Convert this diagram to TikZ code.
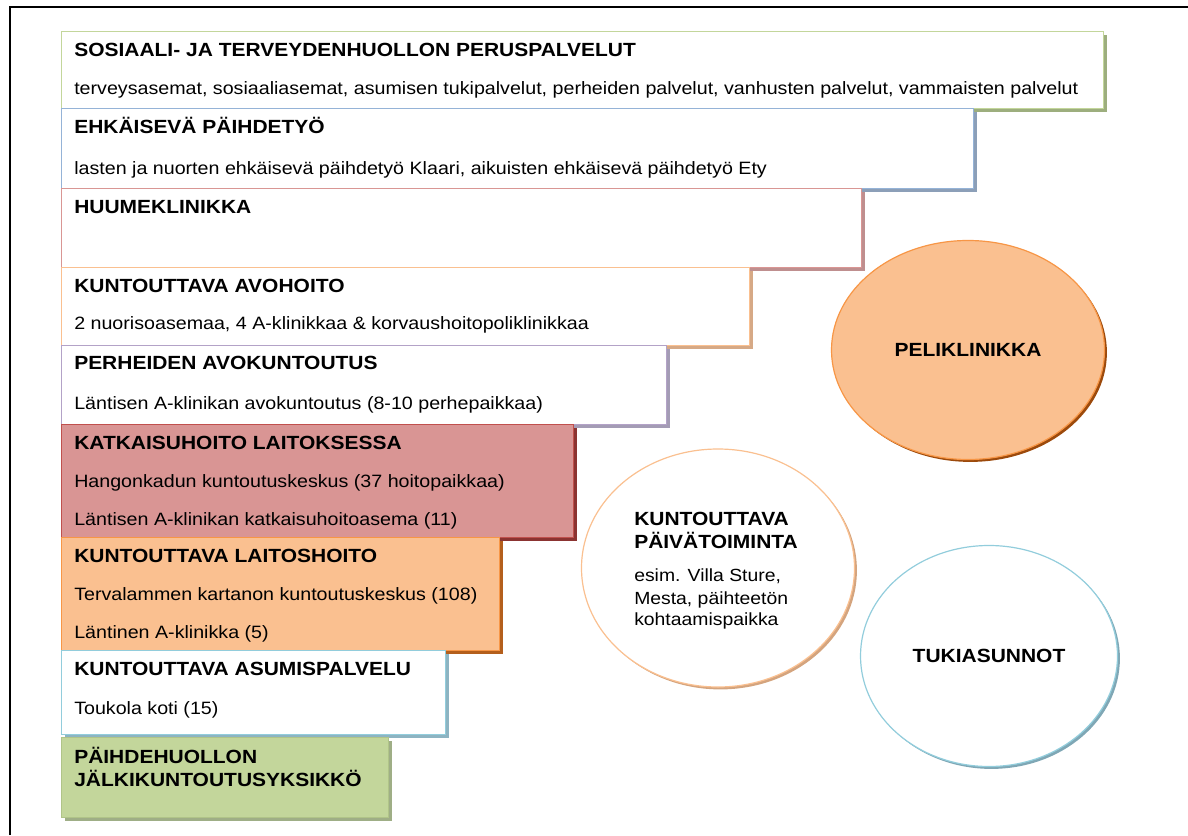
\documentclass[tikz,border=0pt]{standalone}
\usepackage{fontspec}
\setmainfont{Liberation Sans}[FakeStretch=1.1]
\usetikzlibrary{shadows,shapes.geometric}
\definecolor{grnB}{HTML}{C3D69B}
\definecolor{grnS}{HTML}{9DAE7E}
\definecolor{bluB}{HTML}{95B3D7}
\definecolor{bluS}{HTML}{8C9FB8}
\definecolor{redB}{HTML}{D99694}
\definecolor{redS}{HTML}{BF8F8F}
\definecolor{orgB}{HTML}{FAC090}
\definecolor{orgS}{HTML}{D6A986}
\definecolor{vioB}{HTML}{B3A2C7}
\definecolor{vioS}{HTML}{A49CB5}
\definecolor{katF}{HTML}{D99594}
\definecolor{katB}{HTML}{C0504D}
\definecolor{katS}{HTML}{8B3331}
\definecolor{laiF}{HTML}{FAC090}
\definecolor{laiB}{HTML}{F79646}
\definecolor{laiS}{HTML}{B45F1C}
\definecolor{asuB}{HTML}{92CDDC}
\definecolor{asuS}{HTML}{8DB4C2}
\definecolor{jalF}{HTML}{C3D69B}
\definecolor{jalB}{HTML}{B0C488}
\definecolor{jalS}{HTML}{9FAE86}
\definecolor{pelS}{HTML}{9C4A0C}
\definecolor{paiS}{HTML}{D4A47E}
\definecolor{tukS}{HTML}{7FA7B5}
\newcommand\mybox[7]{%
  \pgfmathsetmacro\bw{(#4-#2)*0.75}%
  \pgfmathsetmacro\bh{(#5-#3)*0.75}%
  \node[box, #6, minimum width=\bw pt, minimum height=\bh pt,
        drop shadow={shadow xshift=2.2pt, shadow yshift=-2.2pt, fill=#7, opacity=1}] (#1) at (#2,#3) {};}
\tikzset{
  box/.style={draw, line width=0.9pt, anchor=north west, inner sep=0pt, rectangle},
  ttl/.style={anchor=base west, inner sep=0pt, font=\bfseries\fontsize{14.3}{17}\selectfont},
  sub/.style={anchor=base west, inner sep=0pt, font=\fontsize{13.4}{16}\selectfont},
  csub/.style={anchor=base west, inner sep=0pt, font=\fontsize{13.2}{16}\selectfont},
  circ/.style={ellipse, draw, line width=0.9pt, inner sep=0pt, font=\bfseries\fontsize{14.3}{17}\selectfont},
}
\begin{document}
\begin{tikzpicture}[x=0.75pt, y=-0.75pt]
\useasboundingbox (0,0) rectangle (1188,835);
\draw[line width=2pt] (10,835) -- (10,7) -- (1188,7);

\mybox{b1}{61}{31}{1103}{108}{draw=grnB, fill=white}{grnS}
\node[ttl] (t1) at (74,56.5) {SOSIAALI- JA TERVEYDENHUOLLON PERUSPALVELUT};
\node[sub] (s1) at (74,94) {terveysasemat, sosiaaliasemat, asumisen tukipalvelut, perheiden palvelut, vanhusten palvelut, vammaisten palvelut};

\mybox{b2}{61}{108}{973}{188}{draw=bluB, fill=white}{bluS}
\node[ttl] (t2) at (74,133.5) {EHKÄISEVÄ PÄIHDETYÖ};
\node[sub] (s2) at (74,174) {lasten ja nuorten ehkäisevä päihdetyö Klaari, aikuisten ehkäisevä päihdetyö Ety};

\mybox{b3}{61}{188}{861}{267}{draw=redB, fill=white}{redS}
\node[ttl] (t3) at (74,213.5) {HUUMEKLINIKKA};

\mybox{b4}{61}{267}{749}{345}{draw=orgB, fill=white}{orgS}
\node[ttl] (t4) at (74,292.5) {KUNTOUTTAVA AVOHOITO};
\node[sub] (s4) at (74,329) {2 nuorisoasemaa, 4 A-klinikkaa \& korvaushoitopoliklinikkaa};

\mybox{b5}{61}{345}{666}{424}{draw=vioB, fill=white}{vioS}
\node[ttl] (t5) at (74,369.5) {PERHEIDEN AVOKUNTOUTUS};
\node[sub] (s5) at (74,409) {Läntisen A-klinikan avokuntoutus (8-10 perhepaikkaa)};

\mybox{b6}{61}{424}{573}{537}{draw=katB, fill=katF}{katS}
\node[ttl] (t6) at (74,449.5) {KATKAISUHOITO LAITOKSESSA};
\node[sub] (s6a) at (74,487) {Hangonkadun kuntoutuskeskus (37 hoitopaikkaa)};
\node[sub] (s6b) at (74,525) {Läntisen A-klinikan katkaisuhoitoasema (11)};

\mybox{b7}{61}{537}{499}{650}{draw=laiB, fill=laiF}{laiS}
\node[ttl] (t7) at (74,562.5) {KUNTOUTTAVA LAITOSHOITO};
\node[sub] (s7a) at (74,600) {Tervalammen kartanon kuntoutuskeskus (108)};
\node[sub] (s7b) at (74,638) {Läntinen A-klinikka (5)};

\mybox{b8}{61}{650}{445}{734}{draw=asuB, fill=white}{asuS}
\node[ttl] (t8) at (74,675.5) {KUNTOUTTAVA ASUMISPALVELU};
\node[sub] (s8) at (74,714) {Toukola koti (15)};

\mybox{b9}{61}{737}{388}{817}{draw=jalB, fill=jalF}{jalS}
\node[ttl] (t9a) at (74,763.5) {PÄIHDEHUOLLON};
\node[ttl] (t9b) at (74,786.5) {JÄLKIKUNTOUTUSYKSIKKÖ};

\node[circ, draw=laiB, fill=laiF, minimum width=204.75pt, minimum height=164.25pt,
      drop shadow={shadow xshift=1.8pt, shadow yshift=-1.8pt, fill=pelS, opacity=1}] (pel) at (968,350) {PELIKLINIKKA};

\node[circ, draw=orgB, fill=white, minimum width=204.75pt, minimum height=178.5pt,
      drop shadow={shadow xshift=1.8pt, shadow yshift=-1.8pt, fill=paiS, opacity=1}] (pai) at (718,568) {};
\node[ttl] (pt1) at (634,525.5) {KUNTOUTTAVA};
\node[ttl] (pt2) at (634,548.5) {PÄIVÄTOIMINTA};
\node[csub] (ps1) at (634,581) {esim. Villa Sture,};
\node[csub] (ps2) at (634,604) {Mesta, päihteetön};
\node[csub] (ps3) at (634,625) {kohtaamispaikka};

\node[circ, draw=asuB, fill=white, minimum width=192.75pt, minimum height=165.75pt,
      drop shadow={shadow xshift=1.8pt, shadow yshift=-1.8pt, fill=tukS, opacity=1}] (tuk) at (989,656) {TUKIASUNNOT};
\end{tikzpicture}
\end{document}
